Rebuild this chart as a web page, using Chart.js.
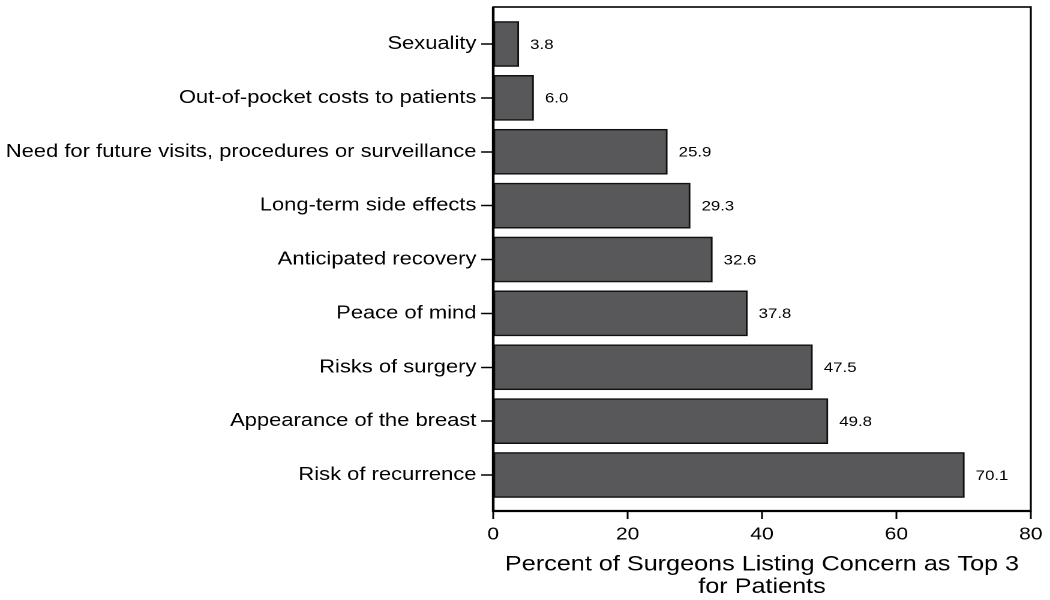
<!DOCTYPE html>
<html>
<head>
<meta charset="utf-8">
<script src="https://cdn.jsdelivr.net/npm/chart.js@4/dist/chart.umd.min.js"></script>
<style>
  html, body { margin: 0; padding: 0; background: #fff; overflow: hidden; }
  /* the reference is stretched sideways, so draw narrow and widen it */
  #wrap { width: 875px; height: 600px; transform: scaleX(1.2); transform-origin: 0 0; }
</style>
</head>
<body>
<div id="wrap"><canvas id="myChart" width="875" height="600"></canvas></div>
<script>
const concerns = [
  'Sexuality',
  'Out-of-pocket costs to patients',
  'Need for future visits, procedures or surveillance',
  'Long-term side effects',
  'Anticipated recovery',
  'Peace of mind',
  'Risks of surgery',
  'Appearance of the breast',
  'Risk of recurrence'
];
const percents = [3.8, 6.0, 25.9, 29.3, 32.6, 37.8, 47.5, 49.8, 70.1];
const xTicks = [0, 20, 40, 60, 80];
const axisTitle = ['Percent of Surgeons Listing Concern as Top 3', 'for Patients'];

const fontName = "'Liberation Sans', Arial, sans-serif";

// frame round the plot area
const frame = {
  id: 'frame',
  afterDraw(chart) {
    const a = chart.chartArea, ctx = chart.ctx;
    ctx.save();
    ctx.strokeStyle = '#000';
    ctx.lineWidth = 1.6;
    ctx.strokeRect(a.left, a.top, a.right - a.left, a.bottom - a.top);
    ctx.lineWidth = 2.2;
    ctx.beginPath();
    ctx.moveTo(a.left, a.top);
    ctx.lineTo(a.left, a.bottom);
    ctx.lineTo(a.right, a.bottom);
    ctx.stroke();
    ctx.restore();
  }
};

// value at the end of each bar
const barValues = {
  id: 'barValues',
  afterDatasetsDraw(chart) {
    const ctx = chart.ctx;
    ctx.save();
    ctx.fillStyle = '#000';
    ctx.font = '14px ' + fontName;
    ctx.textBaseline = 'middle';
    chart.getDatasetMeta(0).data.forEach(function (bar, i) {
      ctx.fillText(percents[i].toFixed(1), bar.x + 9.5, bar.y + 1);
    });
    ctx.restore();
  }
};

const ctx = document.getElementById('myChart');
new Chart(ctx, {
  type: 'bar',
  data: {
    datasets: [{
      data: percents.map(function (v, i) { return { x: v, y: i }; }),
      backgroundColor: '#58585a',
      borderColor: '#111',
      borderWidth: 1.5,
      borderSkipped: false,
      barThickness: 45
    }]
  },
  options: {
    indexAxis: 'y',
    responsive: false,
    animation: false,
    devicePixelRatio: 2,
    layout: { padding: { top: 7, right: 16, left: 0, bottom: 0 } },
    plugins: {
      legend: { display: false },
      tooltip: { enabled: false }
    },
    scales: {
      y: {
        type: 'linear',
        reverse: true,
        offset: false,
        min: -0.687,
        max: 8.668,
        afterBuildTicks: function (scale) {
          scale.ticks = concerns.map(function (c, i) { return { value: i }; });
        },
        afterFit: function (scale) {
          scale.width = 411;
          scale.paddingTop = 0;
          scale.paddingBottom = 0;
        },
        ticks: {
          callback: function (v) { return concerns[v]; },
          color: '#000',
          padding: 4,
          font: { family: fontName, size: 18.3 }
        },
        grid: { offset: false, drawOnChartArea: false, tickLength: 10, color: '#000', tickWidth: 1.5 },
        border: { display: false }
      },
      x: {
        min: 0,
        max: 80,
        afterBuildTicks: function (scale) {
          scale.ticks = xTicks.map(function (v) { return { value: v }; });
        },
        afterFit: function (scale) { scale.height = 89; },
        ticks: {
          color: '#000',
          padding: 5,
          maxRotation: 0,
          font: { family: fontName, size: 17.5 }
        },
        grid: { drawOnChartArea: false, tickLength: 8, color: '#000', tickWidth: 1.5 },
        border: { display: false },
        title: {
          display: true,
          text: axisTitle,
          color: '#000',
          font: { family: fontName, size: 21, lineHeight: 1.05 },
          padding: { top: 6, bottom: 2 }
        }
      }
    }
  },
  plugins: [frame, barValues]
});
</script>
</body>
</html>
